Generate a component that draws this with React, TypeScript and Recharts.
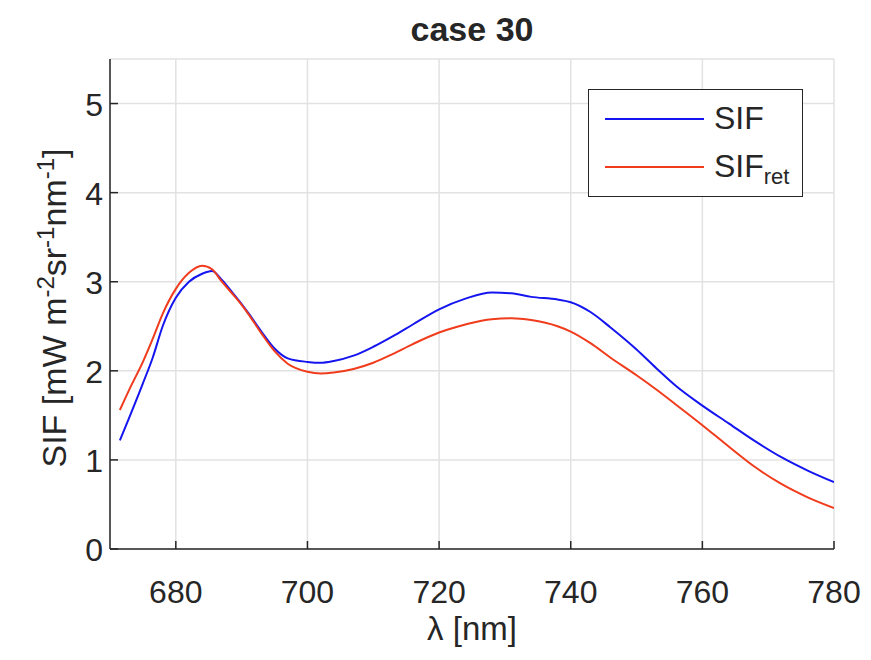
import React from 'react';
import { LineChart, Line, XAxis, YAxis, CartesianGrid } from 'recharts';

// wavelength samples (nm)
const wavelengths = [
    671.5, 673, 675, 676.5, 678, 680, 682, 684, 685.5, 687, 689, 690, 691, 693, 695, 697,
    700, 702, 704, 707, 710, 713, 716, 720, 724, 728, 731, 734, 738, 740, 743, 746,
    750, 753, 756, 760, 764, 768, 772, 776, 780,
];

// SIF (true)
const sifValues = [
    1.22, 1.49, 1.86, 2.15, 2.5, 2.82, 3.0, 3.09, 3.12, 3.02, 2.84, 2.75, 2.65, 2.44, 2.25, 2.14,
    2.1, 2.09, 2.11, 2.17, 2.27, 2.39, 2.52, 2.69, 2.81, 2.88, 2.87, 2.83, 2.8, 2.77, 2.66, 2.49,
    2.24, 2.03, 1.83, 1.61, 1.41, 1.21, 1.03, 0.88, 0.75,
];

// SIF retrieved
const sifRetValues = [
    1.56, 1.8, 2.1, 2.36, 2.64, 2.92, 3.1, 3.18, 3.14, 3.0, 2.83, 2.74, 2.64, 2.42, 2.22, 2.08,
    1.99, 1.97, 1.98, 2.02, 2.09, 2.19, 2.3, 2.43, 2.52, 2.58, 2.59, 2.57, 2.5, 2.44, 2.31, 2.15,
    1.95, 1.79, 1.62, 1.39, 1.15, 0.92, 0.73, 0.58, 0.46,
];

const xTicks = [680, 700, 720, 740, 760, 780];
const yTicks = [0, 1, 2, 3, 4, 5];

const data = wavelengths.map((wl, i) => ({ wl, sif: sifValues[i], ret: sifRetValues[i] }));

const FONT = '"Liberation Sans", Arial, Helvetica, sans-serif';
const INK = '#262626';
const BLUE = '#1515f0';
const RED = '#f03c1c';
const TICK = 8;

const BottomTick = (props: any) => {
    const { x, y, payload } = props;
    return (
        <g>
            <line x1={x} y1={y} x2={x} y2={y - TICK} stroke={INK} strokeWidth={1.5} />
            <text x={x} y={y + 54} textAnchor="middle" fontSize={32} fill={INK} fontFamily={FONT}>
                {payload.value}
            </text>
        </g>
    );
};

const TopTick = (props: any) => {
    const { x, y } = props;
    return <line x1={x} y1={y} x2={x} y2={y + TICK} stroke={INK} strokeWidth={1.5} />;
};

const LeftTick = (props: any) => {
    const { x, y, payload } = props;
    return (
        <g>
            <line x1={x} y1={y} x2={x + TICK} y2={y} stroke={INK} strokeWidth={1.5} />
            <text x={x - 7} y={y + 12} textAnchor="end" fontSize={32} fill={INK} fontFamily={FONT}>
                {payload.value}
            </text>
        </g>
    );
};

const RightTick = (props: any) => {
    const { x, y } = props;
    return <line x1={x} y1={y} x2={x - TICK} y2={y} stroke={INK} strokeWidth={1.5} />;
};

export default function App() {
    return (
        <div style={{ position: 'absolute', left: 0, top: 0, width: 871, height: 660, background: '#fff', fontFamily: FONT, color: INK }}>
            <LineChart width={871} height={660} data={data} margin={{ top: 59, right: 37, bottom: 51, left: 50 }}>
                <CartesianGrid stroke="#e2e2e2" strokeWidth={1.5} />
                <XAxis
                    dataKey="wl"
                    type="number"
                    domain={[670, 780]}
                    ticks={xTicks}
                    allowDataOverflow
                    height={60}
                    tickSize={0}
                    tickMargin={0}
                    tickLine={false}
                    axisLine={{ stroke: INK, strokeWidth: 1.5 }}
                    tick={<BottomTick />}
                    interval={0}
                />
                <XAxis
                    xAxisId="top"
                    orientation="top"
                    type="number"
                    domain={[670, 780]}
                    ticks={xTicks}
                    allowDataOverflow
                    height={0}
                    tickSize={0}
                    tickMargin={0}
                    tickLine={false}
                    axisLine={{ stroke: INK, strokeWidth: 1.5 }}
                    tick={<TopTick />}
                    interval={0}
                />
                <YAxis
                    type="number"
                    domain={[0, 5.5]}
                    ticks={yTicks}
                    allowDataOverflow
                    width={60}
                    tickSize={0}
                    tickMargin={0}
                    tickLine={false}
                    axisLine={{ stroke: INK, strokeWidth: 1.5 }}
                    tick={<LeftTick />}
                    interval={0}
                />
                <YAxis
                    yAxisId="right"
                    orientation="right"
                    type="number"
                    domain={[0, 5.5]}
                    ticks={yTicks}
                    allowDataOverflow
                    width={0}
                    tickSize={0}
                    tickMargin={0}
                    tickLine={false}
                    axisLine={{ stroke: INK, strokeWidth: 1.5 }}
                    tick={<RightTick />}
                    interval={0}
                />
                <Line type="monotone" dataKey="sif" stroke={BLUE} strokeWidth={2} dot={false} isAnimationActive={false} />
                <Line type="monotone" dataKey="ret" stroke={RED} strokeWidth={2} dot={false} isAnimationActive={false} />
            </LineChart>

            {/* title */}
            <div style={{ position: 'absolute', left: 372, width: 200, top: 10, textAlign: 'center', fontSize: 34, fontWeight: 'bold' }}>
                case 30
            </div>

            {/* x label */}
            <div style={{ position: 'absolute', left: 372, width: 200, top: 610, textAlign: 'center', fontSize: 33 }}>
                λ [nm]
            </div>

            {/* y label */}
            <div
                style={{
                    position: 'absolute',
                    left: 46 - 250,
                    top: 308 - 22,
                    width: 500,
                    height: 44,
                    lineHeight: '44px',
                    textAlign: 'center',
                    fontSize: 34,
                    transform: 'rotate(-90deg)',
                    whiteSpace: 'nowrap',
                }}
            >
                SIF [mW m<sup style={{ fontSize: 24 }}>-2</sup>sr<sup style={{ fontSize: 24 }}>-1</sup>nm<sup style={{ fontSize: 24 }}>-1</sup>]
            </div>

            {/* legend */}
            <div
                style={{
                    position: 'absolute',
                    left: 588,
                    top: 89,
                    width: 213,
                    height: 106,
                    border: `1.5px solid ${INK}`,
                    background: '#fff',
                    fontSize: 32,
                }}
            >
                <div style={{ position: 'absolute', left: 16, top: 28, width: 99, height: 2, background: BLUE }} />
                <div style={{ position: 'absolute', left: 125, top: 10, lineHeight: '36px' }}>SIF</div>
                <div style={{ position: 'absolute', left: 16, top: 76, width: 99, height: 2, background: RED }} />
                <div style={{ position: 'absolute', left: 125, top: 58, lineHeight: '36px', whiteSpace: 'nowrap' }}>
                    SIF<sub style={{ fontSize: 22 }}>ret</sub>
                </div>
            </div>
        </div>
    );
}
